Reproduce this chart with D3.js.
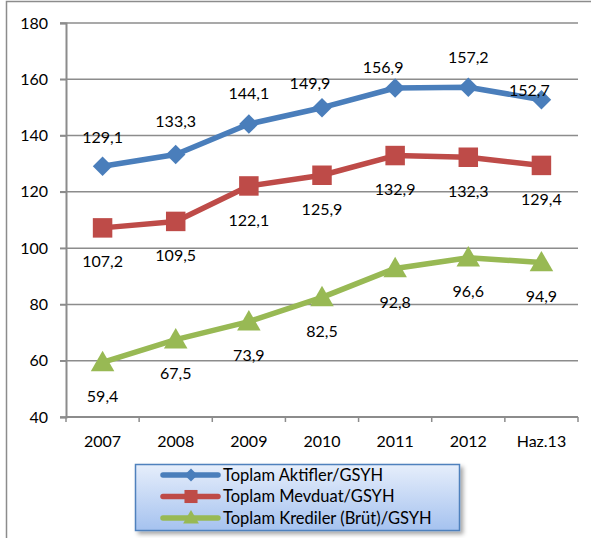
<!DOCTYPE html>
<html lang="tr">
<head>
<meta charset="UTF-8">
<title>GSYH oranları</title>
<script src="https://cdn.jsdelivr.net/npm/d3@7"></script>
<style>
  body, html { margin: 0; background: #fff; }
  svg { display: block; font-family: Lato, "Open Sans", sans-serif; }
</style>
</head>
<body>
<svg width="591" height="538"></svg>
<script>
const categories = ["2007", "2008", "2009", "2010", "2011", "2012", "Haz.13"];
const aktifler  = [129.1, 133.3, 144.1, 149.9, 156.9, 157.2, 152.7];
const mevduat   = [107.2, 109.5, 122.1, 125.9, 132.9, 132.3, 129.4];
const krediler  = [59.4, 67.5, 73.9, 82.5, 92.8, 96.6, 94.9];
const seriesNames = ["Toplam Aktifler/GSYH", "Toplam Mevduat/GSYH", "Toplam Krediler (Brüt)/GSYH"];
const yTicks = [40, 60, 80, 100, 120, 140, 160, 180];

// label nudges (px) as placed in the original sheet
const aktiflerLabelDx = [0, 0, 0, -12, -12, 0, -12];
const aktiflerLabelDy = [-29, -33, -31, -24, -21, -30, -9];

(function(){
  const svg = d3.select('svg');
  const left = 66, right = 578, top = 23, bottom = 417;
  const fmt = v => d3.format('.1f')(v).replace('.', ',');

  const x = d3.scaleBand().domain(categories).range([left, right]).padding(0);
  const cx = c => x(c) + x.bandwidth() / 2;
  const y = d3.scaleLinear().domain([40, 180]).range([bottom, top]);

  // outer frame (clipped by the window on right / bottom)
  svg.append('rect').attr('x', 6.5).attr('y', 1.5).attr('width', 700).attr('height', 700)
    .attr('fill', 'none').attr('stroke', '#8c8c8c').attr('stroke-width', 1.5);

  // gridlines
  svg.append('g').selectAll('line').data(yTicks).enter().append('line')
    .attr('x1', left - 6).attr('x2', right)
    .attr('y1', d => y(d)).attr('y2', d => y(d))
    .attr('stroke', '#8c8c8c').attr('stroke-width', 1.5);

  // y axis
  const ya = svg.append('g').attr('transform', `translate(${left},0)`)
    .call(d3.axisLeft(y).tickValues(yTicks).tickSize(6).tickPadding(12));
  ya.select('.domain').attr('stroke', '#8c8c8c').attr('stroke-width', 2);
  ya.selectAll('.tick line').attr('stroke', '#8c8c8c').attr('stroke-width', 1.5);
  ya.selectAll('text').attr('font-size', 16).attr('fill', '#000').attr('font-family', 'Lato, sans-serif');

  // x axis
  const xa = svg.append('g').attr('transform', `translate(0,${bottom})`)
    .call(d3.axisBottom(x).tickSize(0).tickPadding(19));
  xa.select('.domain').remove();
  xa.selectAll('text').attr('font-size', 16).attr('fill', '#000').attr('font-family', 'Lato, sans-serif');
  svg.append('line').attr('x1', left).attr('x2', right).attr('y1', bottom).attr('y2', bottom)
    .attr('stroke', '#8c8c8c').attr('stroke-width', 2);
  svg.append('g').selectAll('line').data(d3.range(categories.length + 1)).enter().append('line')
    .attr('x1', i => left + i * x.step()).attr('x2', i => left + i * x.step())
    .attr('y1', bottom).attr('y2', bottom + 5)
    .attr('stroke', '#8c8c8c').attr('stroke-width', 1.5);

  const series = [
    {name: seriesNames[0], values: aktifler, color: '#4a7ebb', shape: d3.symbolSquare, rot: 45, size: 190,
     dx: aktiflerLabelDx, dy: aktiflerLabelDy},
    {name: seriesNames[1], values: mevduat, color: '#be4b48', shape: d3.symbolSquare, rot: 0, size: 380,
     dx: categories.map(() => 0), dy: categories.map(() => 34)},
    {name: seriesNames[2], values: krediler, color: '#98b954', shape: d3.symbolTriangle, rot: 0, size: 240,
     dx: categories.map(() => 0), dy: categories.map(() => 34)}
  ];

  const line = d3.line().x((d, i) => cx(categories[i])).y(d => y(d));

  series.forEach(s => {
    const g = svg.append('g');
    g.append('path').datum(s.values).attr('d', line)
      .attr('fill', 'none').attr('stroke', s.color).attr('stroke-width', 5.5).attr('stroke-linejoin', 'round');
    g.selectAll('path.m').data(s.values).enter().append('path').attr('class', 'm')
      .attr('d', d3.symbol().type(s.shape).size(s.size))
      .attr('transform', (d, i) => `translate(${cx(categories[i])},${y(d) + (s.shape === d3.symbolTriangle ? 2 : 0)}) rotate(${s.rot})`)
      .attr('fill', s.color);
  });

  series.forEach(s => {
    svg.append('g').selectAll('text').data(s.values).enter().append('text')
      .attr('x', (d, i) => cx(categories[i]) + s.dx[i])
      .attr('y', (d, i) => y(d) + s.dy[i])
      .attr('dy', '0.35em').attr('text-anchor', 'middle')
      .attr('font-size', 16).attr('fill', '#000')
      .text(d => fmt(d));
  });

  // legend
  const defs = svg.append('defs');
  const grad = defs.append('linearGradient').attr('id', 'lg').attr('x1', 0).attr('y1', 0).attr('x2', 0).attr('y2', 1);
  grad.append('stop').attr('offset', '0%').attr('stop-color', '#e6eefb');
  grad.append('stop').attr('offset', '100%').attr('stop-color', '#a5c2ef');
  const filt = defs.append('filter').attr('id', 'sh').attr('x', '-10%').attr('y', '-20%').attr('width', '130%').attr('height', '150%');
  filt.append('feDropShadow').attr('dx', 3).attr('dy', 3).attr('stdDeviation', 2).attr('flood-color', '#000').attr('flood-opacity', 0.35);

  const lg = svg.append('g');
  lg.append('rect').attr('x', 135.5).attr('y', 464.5).attr('width', 324).attr('height', 66)
    .attr('fill', 'url(#lg)').attr('stroke', '#4f81bd').attr('stroke-width', 1.5).attr('filter', 'url(#sh)');
  const rows = lg.selectAll('g.row').data(series).enter().append('g').attr('class', 'row')
    .attr('transform', (d, i) => `translate(0,${475 + i * 21.5})`);
  rows.append('line').attr('x1', 163).attr('x2', 218).attr('y1', 0).attr('y2', 0)
    .attr('stroke', d => d.color).attr('stroke-width', 5.5).attr('stroke-linecap', 'round');
  rows.append('path').attr('d', d => d3.symbol().type(d.shape).size(d.size * 0.45)())
    .attr('transform', d => `translate(191,${d.shape === d3.symbolTriangle ? 1 : 0}) rotate(${d.rot})`)
    .attr('fill', d => d.color);
  rows.append('text').attr('x', 223).attr('y', 0).attr('dy', '0.35em')
    .attr('font-size', 16.5).attr('fill', '#000').text(d => d.name);
})();
</script>
</body>
</html>
